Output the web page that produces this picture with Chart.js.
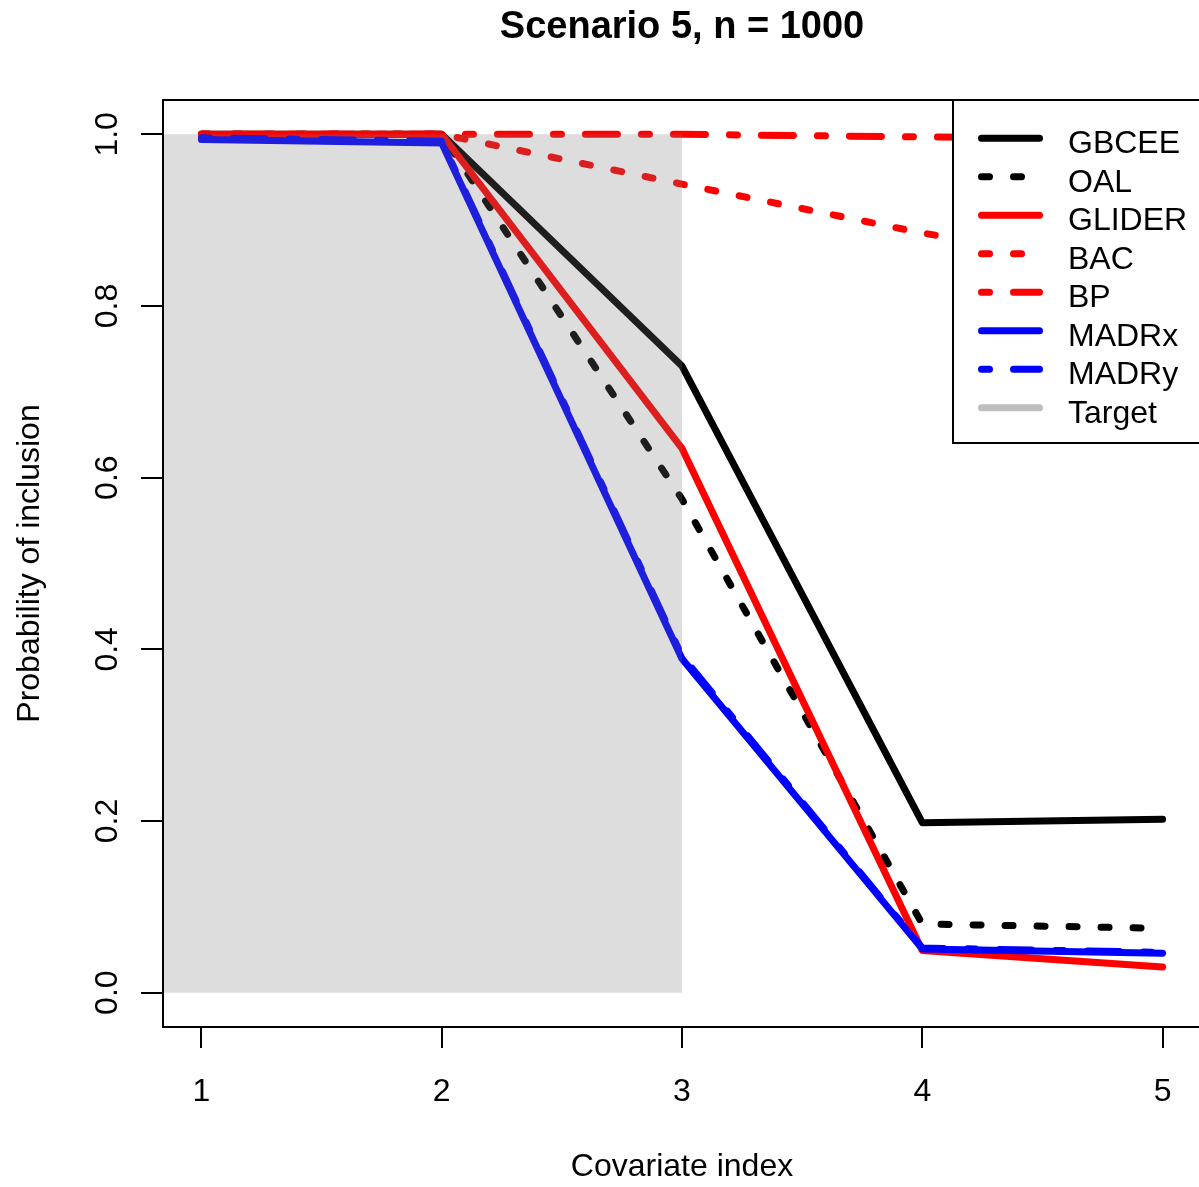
<!DOCTYPE html>
<html>
<head>
<meta charset="utf-8">
<script src="https://cdn.jsdelivr.net/npm/chart.js@4.4.1/dist/chart.umd.min.js"></script>
<style>
  html, body { margin: 0; padding: 0; overflow: hidden; background: #fff; }
  canvas { display: block; }
</style>
</head>
<body>
<canvas id="chart" width="1210" height="1187"></canvas>
<script>
// data
const covariateIdx = [1, 2, 3, 4, 5];
const gbcee  = [1.000, 1.000, 0.730, 0.198, 0.202];
const oal    = [1.000, 1.000, 0.575, 0.080, 0.075];
const glider = [1.000, 1.000, 0.634, 0.049, 0.030];
const bac    = [1.000, 1.000, 0.942, 0.885, 0.840];
const bp     = [1.000, 1.000, 1.000, 0.997, 0.995];
const madrx  = [0.994, 0.990, 0.389, 0.051, 0.046];
const madry  = [0.996, 0.992, 0.392, 0.052, 0.047];
const targetX = [0, 3];
const targetY = [1, 1];

const xTicks = [1, 2, 3, 4, 5];
const xTickLabels = ["1", "2", "3", "4", "5"];
const yTicks = [0, 0.2, 0.4, 0.6, 0.8, 1.0];
const yTickLabels = ["0.0", "0.2", "0.4", "0.6", "0.8", "1.0"];

const title = "Scenario 5, n = 1000";
const xTitle = "Covariate index";
const yTitle = "Probability of inclusion";

const FONT = '"Liberation Sans", Arial, sans-serif';
const LW = 7;
const DOTTED = [8, 24];
const DOTDASH = [8, 24, 32, 24];

function pts(ys, xs) {
  return ys.map((v, i) => ({ x: (xs || covariateIdx)[i], y: v }));
}

function series(label, ys, color, dash, order) {
  return {
    label: label,
    data: pts(ys),
    borderColor: color,
    borderWidth: LW,
    borderDash: dash,
    borderCapStyle: "round",
    borderJoinStyle: "round",
    pointRadius: 0,
    tension: 0,
    fill: false,
    order: order
  };
}

// R-style frame, texts and legend
const rPlot = {
  id: "rPlot",
  afterDraw(chart) {
    const { ctx, chartArea: a, scales } = chart;
    const x = scales.x, y = scales.y;
    ctx.save();
    ctx.strokeStyle = "#000";
    ctx.lineWidth = 2;
    ctx.setLineDash([]);
    ctx.strokeRect(a.left, a.top, a.right - a.left, a.bottom - a.top);

    ctx.fillStyle = "#000";
    ctx.textAlign = "center";
    ctx.textBaseline = "alphabetic";
    ctx.font = "bold 38px " + FONT;
    ctx.fillText(title, (a.left + a.right) / 2, 38);

    ctx.font = "32px " + FONT;
    xTicks.forEach((v, i) => ctx.fillText(xTickLabels[i], x.getPixelForValue(v), 1101));
    ctx.fillText(xTitle, (a.left + a.right) / 2, 1176);

    yTicks.forEach((v, i) => {
      ctx.save();
      ctx.translate(117, y.getPixelForValue(v));
      ctx.rotate(-Math.PI / 2);
      ctx.fillText(yTickLabels[i], 0, 0);
      ctx.restore();
    });
    ctx.save();
    ctx.translate(39, (a.top + a.bottom) / 2);
    ctx.rotate(-Math.PI / 2);
    ctx.fillText(yTitle, 0, 0);
    ctx.restore();

    // legend box
    const bx = 953, by = a.top, bw = 300, bh = 443 - a.top;
    ctx.fillStyle = "#fff";
    ctx.fillRect(bx, by, bw, bh);
    ctx.strokeRect(bx, by, bw, bh);

    ctx.textAlign = "left";
    chart.data.datasets.forEach((ds, i) => {
      const ly = 138.3 + 38.5 * i;
      ctx.save();
      ctx.strokeStyle = ds.legendColor || ds.borderColor;
      ctx.lineWidth = LW;
      ctx.lineCap = "round";
      ctx.setLineDash(ds.borderDash || []);
      ctx.beginPath();
      ctx.moveTo(981.5, ly);
      ctx.lineTo(1039.5, ly);
      ctx.stroke();
      ctx.restore();
      ctx.fillStyle = "#000";
      ctx.fillText(ds.label, 1068, ly + 15);
    });
    ctx.restore();
  }
};

new Chart(document.getElementById("chart"), {
  type: "line",
  data: {
    datasets: [
      series("GBCEE", gbcee, "#000000", [], 8),
      series("OAL", oal, "#000000", DOTTED, 7),
      series("GLIDER", glider, "#ff0000", [], 6),
      series("BAC", bac, "#ff0000", DOTTED, 5),
      series("BP", bp, "#ff0000", DOTDASH, 4),
      series("MADRx", madrx, "#0000ff", [], 3),
      series("MADRy", madry, "#0000ff", DOTDASH, 2),
      {
        label: "Target",
        data: pts(targetY, targetX),
        borderWidth: 0,
        borderColor: "rgba(0,0,0,0)",
        backgroundColor: "rgba(120,120,120,0.25)",
        legendColor: "#bebebe",
        pointRadius: 0,
        tension: 0,
        fill: { value: 0 },
        order: 1
      }
    ]
  },
  options: {
    responsive: false,
    animation: false,
    devicePixelRatio: 1,
    layout: { padding: { top: 100, right: 9, left: 0, bottom: 0 } },
    plugins: {
      legend: { display: false },
      tooltip: { enabled: false },
      title: { display: false }
    },
    scales: {
      x: {
        type: "linear",
        min: 0.84,
        max: 5.16,
        afterBuildTicks: (s) => { s.ticks = xTicks.map((v) => ({ value: v })); },
        afterFit: (s) => { s.height = 160; },
        ticks: { display: false },
        border: { display: false },
        grid: { drawOnChartArea: false, drawTicks: true, tickLength: 21, color: "#000", lineWidth: 2 }
      },
      y: {
        type: "linear",
        min: -0.04,
        max: 1.04,
        afterBuildTicks: (s) => { s.ticks = yTicks.map((v) => ({ value: v })); },
        afterFit: (s) => { s.width = 163; },
        ticks: { display: false },
        border: { display: false },
        grid: { drawOnChartArea: false, drawTicks: true, tickLength: 22, color: "#000", lineWidth: 2 }
      }
    }
  },
  plugins: [rPlot]
});
</script>
</body>
</html>
